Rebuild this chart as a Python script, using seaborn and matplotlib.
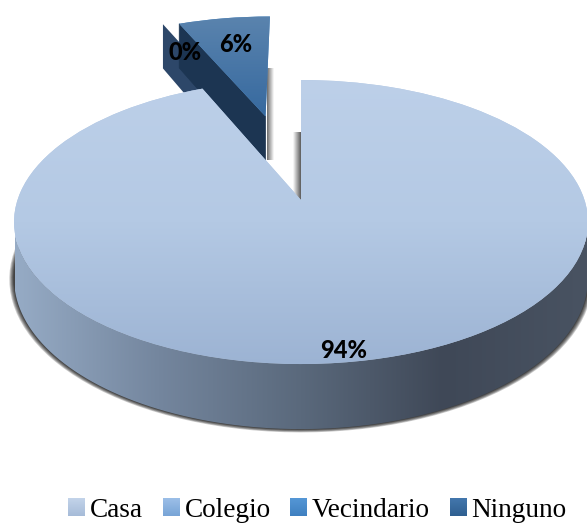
import numpy as np
import matplotlib
matplotlib.use("Agg")
import matplotlib.pyplot as plt
import matplotlib.transforms as mtransforms
from matplotlib.patches import Patch, Polygon, PathPatch
from matplotlib.path import Path
import seaborn as sns

categories = ["Casa", "Colegio", "Vecindario", "Ninguno"]
values = [93.5, 0, 6.5, 0]
shown_labels = ["94%", "0%", "6%"]

legend_colors = ["#b4c9e4", "#8fb4e0", "#4a8bc9", "#3a6c9f"]
legend_ramps = [["#c3d4ea", "#a6bbd8"], ["#9cbfe8", "#78a4d6"],
                ["#5597d6", "#3f80c0"], ["#4377ad", "#2f5f90"]]

# camera numbers, worked out from the picture (pixels)
CX, CY = 301, 200
A, B, K = 283.5, 138.6, 0.155
DEPTH = 55


class Tilt(mtransforms.Transform):
    # flat pie plane -> pixel position, with a bit of perspective
    input_dims = 2
    output_dims = 2

    def __init__(self, z=0):
        super().__init__()
        self.z = z

    def transform_non_affine(self, v):
        v = np.asarray(v, dtype=float)
        w = 1 / (1 + K * v[:, 1])
        return np.c_[CX + A * v[:, 0] * w, CY - B * v[:, 1] * w + self.z * w]


def gradient(ax, colors, box, clip, vertical=True, zorder=2):
    cmap = sns.blend_palette(colors, as_cmap=True)
    g = np.linspace(0, 1, 256)
    g = g[:, None] if vertical else g[None, :]
    im = ax.imshow(g, cmap=cmap, extent=box, aspect="auto", zorder=zorder,
                   interpolation="bilinear")
    if clip is not None:
        im.set_clip_path(clip)
    return im


sns.set_theme(style="white")
plt.rcParams["font.family"] = ["Lato", "DejaVu Sans"]

fig = plt.figure(figsize=(5.87, 5.24), dpi=100)
ax = fig.add_axes([0, 0, 1, 1])

explode = [0, 0.72, 0.68, 0.68]

# shadow under the big slice
for r in [1.016, 1.013, 1.010, 1.007, 1.004, 1.002]:
    sh, _ = ax.pie(values, startangle=90, counterclock=False, explode=explode,
                   radius=r, colors=["#000000"] * 4, wedgeprops={"linewidth": 0})
    for i, s in enumerate(sh):
        s.set_transform(Tilt(DEPTH) + ax.transData)
        s.set_clip_on(False)
        s.set_zorder(1)
        s.set_alpha(0.2 if i == 0 else 0)

wedges, _ = ax.pie(values, startangle=90, counterclock=False, explode=explode,
                   colors=legend_colors, wedgeprops={"linewidth": 0})
for w in wedges:
    w.set_transform(Tilt(0) + ax.transData)
    w.set_clip_on(False)

tilt_top = Tilt(0)
tilt_low = Tilt(DEPTH)


def wall(start, angle):
    # upright wall from the slice tip out to the rim
    tip = np.asarray(start, dtype=float)
    rim = tip + [np.cos(np.radians(angle)), np.sin(np.radians(angle))]
    pts = np.array([tip, rim])
    up = tilt_top.transform_non_affine(pts)
    low = tilt_low.transform_non_affine(pts)
    return np.vstack([up, low[::-1]])


# Vecindario slice: cut wall, then top
vec = wedges[2]
ax.add_patch(Polygon(wall(vec.center, vec.theta2), closed=True, facecolor="#1c3552",
                     edgecolor="#1c3552", linewidth=0.5, zorder=3))
# Colegio is 0%, only its wall shows
col = wedges[1]
ax.add_patch(Polygon(wall(np.array(col.center) + [0.077, 0], col.theta2), closed=True,
                     facecolor="#2d4769", edgecolor="none", zorder=2.5))
vec.set_zorder(4)
gradient(ax, ["#5b84ae", "#36699f"], (170, 275, 117, 14), vec, zorder=4)

# gap shadows
gradient(ax, ["#6a6a6a", "#ffffff"], (267, 274, 160, 68), None, vertical=False, zorder=1.5)
gradient(ax, ["#ffffff", "#5a5a5a"], (293, 301, 200, 132), None, vertical=False, zorder=1.5)

# rim of the big slice
ang = np.radians(np.linspace(180 + np.degrees(np.arcsin(K)), 360 - np.degrees(np.arcsin(K)), 300))
ring = np.c_[np.cos(ang), np.sin(ang)]
side = np.vstack([tilt_top.transform_non_affine(ring),
                  tilt_low.transform_non_affine(ring)[::-1]])
side_clip = PathPatch(Path(np.vstack([side, side[0]])), transform=ax.transData)
gradient(ax, ["#96abc5", "#74869e", "#5a697c", "#3f4857", "#495362"], (15, 587, 440, 200),
         side_clip, vertical=False, zorder=5)

# top of the big slice
casa = wedges[0]
casa.set_zorder(6)
gradient(ax, ["#bdd0e9", "#b4c9e4", "#9cb3d3"], (10, 590, 366, 78), casa, zorder=6)

label_pos = [(344, 350), (185, 52), (236, 44)]
for txt, (x, y) in zip(shown_labels, label_pos):
    ax.text(x, y, txt, fontsize=17, fontweight=900, color="black",
            ha="center", va="center", zorder=8)

handles = [Patch(facecolor=c, edgecolor="none") for c in legend_colors]
leg = ax.legend(handles, categories, ncol=4, loc="center", bbox_to_anchor=(317.5, 510.5),
                bbox_transform=ax.transData, frameon=False, borderpad=0, borderaxespad=0,
                handlelength=0.6, handleheight=0.6, handletextpad=0.2, columnspacing=0.72,
                prop={"family": "Liberation Serif", "size": 19.6}, labelcolor="black")

ax.set_xlim(0, 587)
ax.set_ylim(524, 0)
ax.set_aspect("auto")
ax.axis("off")

# legend swatches get the same soft ramp as the slices
fig.canvas.draw()
leg.set_zorder(9)
for patch, ramp in zip(leg.get_patches(), legend_ramps):
    bb = patch.get_window_extent().transformed(ax.transData.inverted())
    gradient(ax, ramp, (bb.x0, bb.x1, max(bb.y0, bb.y1), min(bb.y0, bb.y1)), None, zorder=10)
ax.set_xlim(0, 587)
ax.set_ylim(524, 0)

fig.savefig("out.png", dpi=100)
